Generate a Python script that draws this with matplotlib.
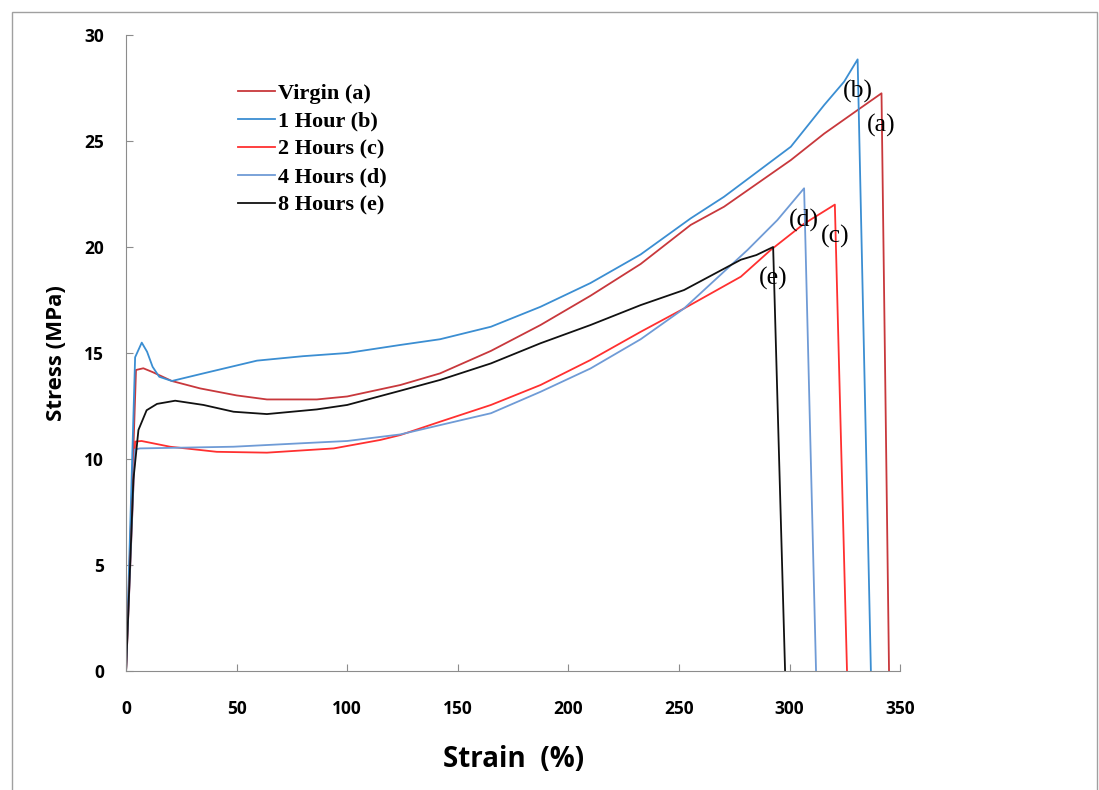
import matplotlib.pyplot as plt
from matplotlib.patches import Rectangle

# Stress-strain curves
virgin_x = [0, 4.5, 7.8, 12, 20.7, 33.5, 50, 63.7, 86.3, 100, 124, 142, 165, 187.4, 210, 232.7, 255.3, 270.4, 285.5, 300.6, 315.7, 330.8, 341.6, 345]
virgin_y = [0, 14.2, 14.28, 14.1, 13.68, 13.33, 13.0, 12.81, 12.81, 12.95, 13.49, 14.04, 15.1, 16.32, 17.7, 19.2, 21.04, 21.9, 23.0, 24.1, 25.35, 26.46, 27.25, 0]

h1_x = [0, 4.1, 7.1, 9.5, 12, 15, 20.7, 35, 59.2, 80, 100, 124, 142, 165, 187.4, 210, 232.7, 255.3, 270.4, 285.5, 300.6, 315.7, 324.7, 330.8, 336.8]
h1_y = [0, 14.8, 15.49, 15.06, 14.35, 13.88, 13.68, 14.04, 14.64, 14.85, 15.0, 15.38, 15.65, 16.24, 17.18, 18.3, 19.65, 21.35, 22.37, 23.55, 24.73, 26.7, 27.8, 28.85, 0]

h2_x = [0, 4.1, 7, 19.9, 41, 63.7, 93.9, 115, 124, 142, 165, 187.4, 210, 232.7, 252.3, 278, 291.5, 306.6, 320.5, 326]
h2_y = [0, 10.82, 10.85, 10.58, 10.34, 10.3, 10.5, 10.9, 11.13, 11.76, 12.55, 13.49, 14.67, 16.0, 17.1, 18.6, 19.86, 21.1, 22.0, 0]

h4_x = [0, 4, 6.3, 48.6, 78.8, 100, 124, 142, 165, 187.4, 210, 232.7, 252.3, 281, 294.5, 306.6, 312]
h4_y = [0, 10.45, 10.5, 10.58, 10.74, 10.85, 11.16, 11.6, 12.16, 13.17, 14.27, 15.65, 17.1, 19.86, 21.27, 22.77, 0]

h8_x = [0, 3.3, 5.6, 9.3, 14, 22.2, 35, 48.6, 63.7, 86.3, 100, 124, 142, 165, 187.4, 210, 232.7, 252.3, 278, 285, 292.6, 298]
h8_y = [0, 9.0, 11.37, 12.3, 12.6, 12.75, 12.55, 12.23, 12.12, 12.34, 12.55, 13.22, 13.73, 14.51, 15.46, 16.32, 17.26, 17.97, 19.4, 19.62, 20.0, 0]

series = [
    (virgin_x, virgin_y, 'Virgin (a)', '#C8383C', '(a)'),
    (h1_x, h1_y, '1 Hour (b)', '#3B8ED2', '(b)'),
    (h2_x, h2_y, '2 Hours (c)', '#FF3030', '(c)'),
    (h4_x, h4_y, '4 Hours (d)', '#6F9BD6', '(d)'),
    (h8_x, h8_y, '8 Hours (e)', '#111111', '(e)'),
]

fig = plt.figure(figsize=(10.99, 7.9), dpi=100)
ax = fig.add_axes([0.1147, 0.1506, 0.7043, 0.8051])

for xs, ys, name, col, tag in series:
    ax.plot(xs, ys, color=col, lw=1.3, label=name)
    # label sits just below the peak of each curve
    i = ys.index(max(ys))
    ax.annotate(tag, (xs[i], ys[i]), xytext=(0, -23), textcoords='offset points',
                ha='center', va='center', fontsize=18.5, family='Liberation Serif')

ax.set_xlim(0, 350)
ax.set_ylim(0, 30)
ax.set_xticks(range(0, 351, 50))
ax.set_yticks(range(0, 31, 5))
for s in ['top', 'right']:
    ax.spines[s].set_visible(False)
for s in ['left', 'bottom']:
    ax.spines[s].set_color('#8c8c8c')
ax.tick_params(direction='in', length=5, color='#8c8c8c', labelsize=12.5)
ax.tick_params(axis='x', pad=21)
ax.tick_params(axis='y', pad=16)
for lab in ax.get_xticklabels() + ax.get_yticklabels():
    lab.set_fontweight('bold')
    lab.set_family('Open Sans')

ax.set_xlabel('Strain  (%)', fontsize=20, fontweight='bold', family='Open Sans', labelpad=19)
ax.set_ylabel('Stress (MPa)', fontsize=16, fontweight='bold', family='Open Sans', labelpad=12)

ax.legend(loc='upper left', bbox_to_anchor=(0.1447, 0.924), frameon=False,
          borderpad=0, borderaxespad=0,
          prop={'family': 'Liberation Serif', 'weight': 'bold', 'size': 16},
          handlelength=1.65, handletextpad=0.15, labelspacing=0.33)

fig.patches.append(Rectangle((12 / 1099, -0.05), 1085 / 1099, 1.05 - 12 / 790,
                             transform=fig.transFigure, fill=False, edgecolor='#a0a0a0', lw=1))

fig.savefig('out.png', dpi=100)
